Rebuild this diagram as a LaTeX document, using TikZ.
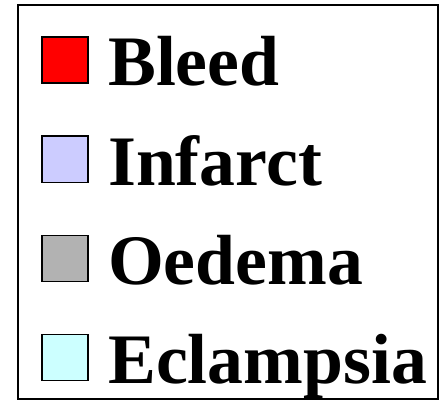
\documentclass[tikz,border=0pt]{standalone}
\usepackage{fontspec}
\setmainfont{Liberation Serif}[FakeStretch=1.01]
\definecolor{cBleed}{RGB}{255,0,0}
\definecolor{cInfarct}{RGB}{204,204,255}
\definecolor{cOedema}{RGB}{178,178,178}
\definecolor{cEclampsia}{RGB}{204,255,255}
\tikzset{
  swatch/.style={draw=black, line width=1.5pt, minimum width=46pt, minimum height=46pt, inner sep=0pt, anchor=south west},
  lbl/.style={font=\fontsize{71}{71}\selectfont\bfseries, anchor=base west, inner sep=0pt},
  frame/.style={draw=black, line width=2.2pt}
}
\begin{document}
\begin{tikzpicture}[x=1pt,y=1pt]
\useasboundingbox (0,0) rectangle (441,402);
\fill[white] (0,0) rectangle (441,402);
\draw[frame] (18,3) rectangle (438,397);
\node[swatch, fill=cBleed] (s1) at (41,318) {};
\node[lbl] (t1) at (108,316) {Bleed};
\node[swatch, fill=cInfarct] (s2) at (41,219) {};
\node[lbl] (t2) at (108,217) {Infarct};
\node[swatch, fill=cOedema] (s3) at (41,120) {};
\node[lbl] (t3) at (108,118) {Oedema};
\node[swatch, fill=cEclampsia] (s4) at (41,21) {};
\node[lbl] (t4) at (108,19) {Eclampsia};
\end{tikzpicture}
\end{document}
